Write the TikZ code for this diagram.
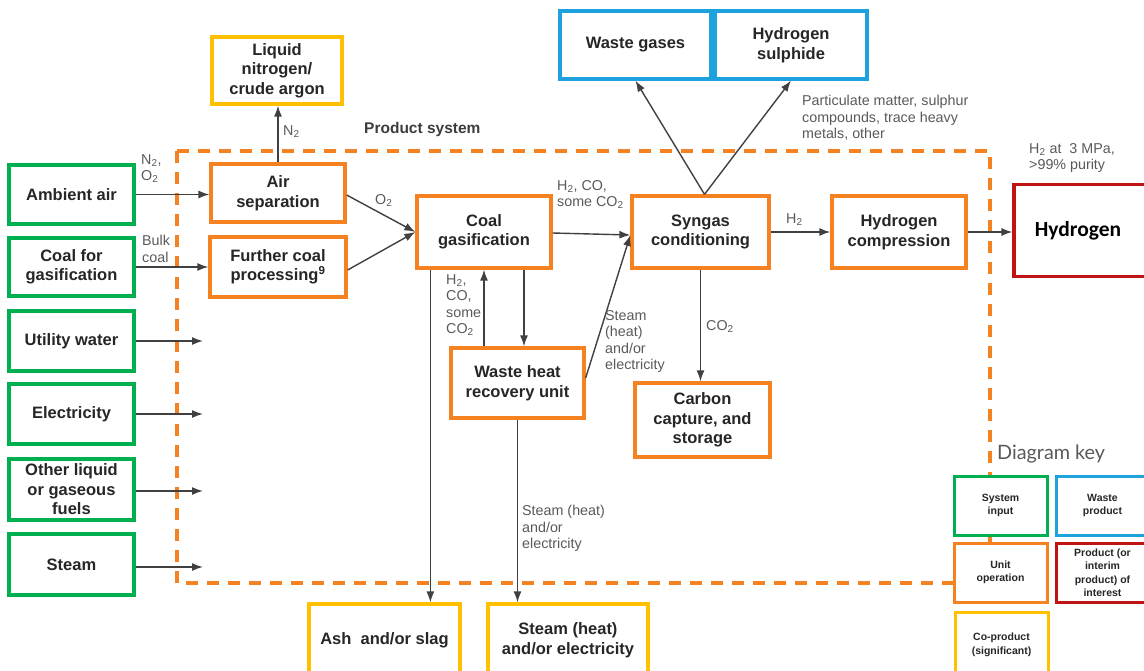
\documentclass[tikz,border=0pt]{standalone}
\usepackage{fontspec}
\setmainfont{Liberation Sans}
\newfontfamily\keyfont{Lato}
\newfontfamily\hyfont{Carlito}
\usetikzlibrary{arrows.meta}
\definecolor{cgreen}{RGB}{0,176,80}
\definecolor{corange}{RGB}{245,130,32}
\definecolor{cblue}{RGB}{30,162,222}
\definecolor{cyellow}{RGB}{255,192,0}
\definecolor{cred}{RGB}{192,20,20}
\definecolor{txt}{RGB}{38,38,38}
\definecolor{lbl}{RGB}{89,89,89}
\definecolor{conn}{RGB}{64,64,64}
\begin{document}
\begin{tikzpicture}[x=1pt,y=-1pt,
  box/.style={draw, fill=white, line width=3.3pt, align=center, text=txt, inner sep=0pt,
    font=\fontsize{16.5}{19.5}\selectfont\bfseries},
  inbox/.style={box, draw=cgreen},
  opbox/.style={box, draw=corange},
  wbox/.style={box, draw=cblue},
  cobox/.style={box, draw=cyellow},
  pbox/.style={box, draw=cred},
  keybox/.style={draw, fill=white, line width=3pt, align=center, text=txt, inner sep=0pt,
    font=\fontsize{10.5}{13.5}\selectfont\bfseries},
  lab/.style={anchor=north west, align=left, text=lbl, inner sep=0pt,
    font=\fontsize{14.3}{16.5}\selectfont},
  arr/.style={draw=conn, line width=1.4pt, -{Latex[length=11pt,width=8pt]}},
  sysbox/.style={draw=corange, line width=3.2pt, dash pattern=on 12pt off 9pt}
]
\useasboundingbox (0,0) rectangle (1144,670);

% product system boundary
\draw[sysbox] (177,151) rectangle (990,583);
\node[anchor=north west, inner sep=0pt, text=txt!90,
  font=\fontsize{15.5}{18}\selectfont\bfseries] (ps) at (364,122) {Product system};

% system inputs
\node[inbox, minimum width=125pt, minimum height=59pt] (amb) at (71.5,194.5) {Ambient air};
\node[inbox, minimum width=125pt, minimum height=58pt] (coal) at (71.5,267) {Coal for\\gasification};
\node[inbox, minimum width=125pt, minimum height=60pt] (uw) at (71.5,341) {Utility water};
\node[inbox, minimum width=125pt, minimum height=60pt] (el) at (71.5,414) {Electricity};
\node[inbox, minimum width=125pt, minimum height=61pt] (oth) at (71.5,489.5) {Other liquid\\or gaseous\\fuels};
\node[inbox, minimum width=125pt, minimum height=61pt] (stm) at (71.5,564.5) {Steam};

% unit operations
\node[opbox, minimum width=134pt, minimum height=58pt] (as) at (278,193) {Air\\separation};
\node[opbox, minimum width=136pt, minimum height=60pt] (fcp) at (278,267) {Further coal\\processing\textsuperscript{9}};
\node[opbox, minimum width=134pt, minimum height=72pt] (cg) at (484,232) {Coal\\gasification};
\node[opbox, minimum width=137pt, minimum height=72pt] (sc) at (700.5,232) {Syngas\\conditioning};
\node[opbox, minimum width=134pt, minimum height=72pt] (hc) at (899,232) {Hydrogen\\compression};
\node[opbox, minimum width=133pt, minimum height=70pt] (whru) at (517.5,383) {Waste heat\\recovery unit};
\node[opbox, minimum width=135pt, minimum height=74pt] (ccs) at (702.5,420) {Carbon\\capture, and\\storage};

% co-products
\node[cobox, minimum width=130pt, minimum height=67pt] (lna) at (277,70.5) {Liquid\\nitrogen/\\crude argon};
\node[cobox, minimum width=151pt, minimum height=72pt] (ash) at (384.5,640) {Ash\ \ and/or slag};
\node[cobox, minimum width=160pt, minimum height=72pt] (so) at (568,640) {Steam (heat)\\and/or electricity};

% waste products
\node[wbox, minimum width=151pt, minimum height=68pt] (wg) at (635.5,45) {Waste gases};
\node[wbox, minimum width=152pt, minimum height=68pt] (hs) at (791,45) {Hydrogen\\sulphide};

% product
\node[pbox, minimum width=134pt, minimum height=92pt, text=black,
  font=\hyfont\fontsize{21.5}{24}\selectfont\bfseries] (hy) at (1081,230.5) {\hspace*{-6pt}Hydrogen};

% free ends of input arrows
\coordinate (uwE) at (203,341);
\coordinate (elE) at (203,414);
\coordinate (othE) at (203,491);
\coordinate (stmE) at (203,567);

% connectors
\draw[arr] (amb.east) -- (amb.east -| as.west);
\draw[arr] (coal.east) -- (coal.east -| fcp.west);
\draw[arr] (uw.east) -- (uwE);
\draw[arr] (el.east) -- (elE);
\draw[arr] ([yshift=-1.5pt]oth.east) -- (othE);
\draw[arr] ([yshift=-2.5pt]stm.east) -- (stmE);
\draw[arr] (as.north) -- (as.north |- lna.south);
\draw[arr] ([yshift=-2pt]as.east) -- (cg.west);
\draw[arr] ([yshift=-3pt]fcp.east) -- (cg.west);
\draw[arr] ([yshift=-1pt]cg.east) -- ([yshift=-3pt]sc.west);
\draw[arr] ([xshift=15pt]cg.south west) -- ([xshift=15pt]cg.south west |- ash.north);
\draw[arr] ([xshift=40pt]cg.south) -- ([xshift=40pt]cg.south |- whru.north);
\draw[arr] ([xshift=-33.5pt]whru.north) -- ([xshift=-33.5pt]whru.north |- cg.south);
\draw[arr] ([yshift=5pt]whru.east) -- ([yshift=-3pt]sc.west);
\draw[arr] (whru.south) -- (whru.south |- so.north);
\draw[arr] ([xshift=4pt]sc.north) -- (wg.south);
\draw[arr] ([xshift=4pt]sc.north) -- (hs.south);
\draw[arr] (sc.east) -- (hc.west);
\draw[arr] (sc.south) -- (sc.south |- ccs.north);
\draw[arr] (hc.east) -- (hc.east -| hy.west);

% flow labels
\node[lab] (l1) at (141,154) {N\textsubscript{2},\\O\textsubscript{2}};
\node[lab] (l2) at (142,235) {Bulk\\coal};
\node[lab] (l3) at (283,125) {N\textsubscript{2}};
\node[lab] (l4) at (375,194) {O\textsubscript{2}};
\node[lab] (l5) at (557,180) {H\textsubscript{2}, CO,\\some CO\textsubscript{2}};
\node[lab] (l6) at (446,274) {H\textsubscript{2},\\CO,\\some\\CO\textsubscript{2}};
\node[lab] (l7) at (605,310) {Steam\\(heat)\\and/or\\electricity};
\node[lab] (l8) at (522,505) {Steam (heat)\\and/or\\electricity};
\node[lab] (l9) at (802,95) {Particulate matter, sulphur\\compounds, trace heavy\\metals, other};
\node[lab] (l10) at (786,213) {H\textsubscript{2}};
\node[lab] (l11) at (706,320) {CO\textsubscript{2}};
\node[lab] (l12) at (1029,143) {H\textsubscript{2} at\ \ 3 MPa,\\>99\% purity};

% diagram key
\node[anchor=north west, inner sep=0pt, text=lbl,
  font=\keyfont\fontsize{19.8}{22}\selectfont] (dk) at (997,445) {Diagram key};
\node[keybox, draw=cgreen, minimum width=93pt, minimum height=59pt] (k1) at (1000.5,505.5) {System\\input};
\node[keybox, draw=cblue, minimum width=93pt, minimum height=59pt] (k2) at (1102.5,505.5) {Waste\\product};
\node[keybox, draw=corange, minimum width=93pt, minimum height=59pt] (k3) at (1000.5,572.5) {Unit\\operation};
\node[keybox, draw=cred, minimum width=93pt, minimum height=59pt] (k4) at (1102.5,572.5) {Product (or\\interim\\product) of\\interest};
\node[keybox, draw=cyellow, minimum width=93pt, minimum height=66pt] (k5) at (1001.5,645) {Co-product\\(significant)};
\end{tikzpicture}
\end{document}
